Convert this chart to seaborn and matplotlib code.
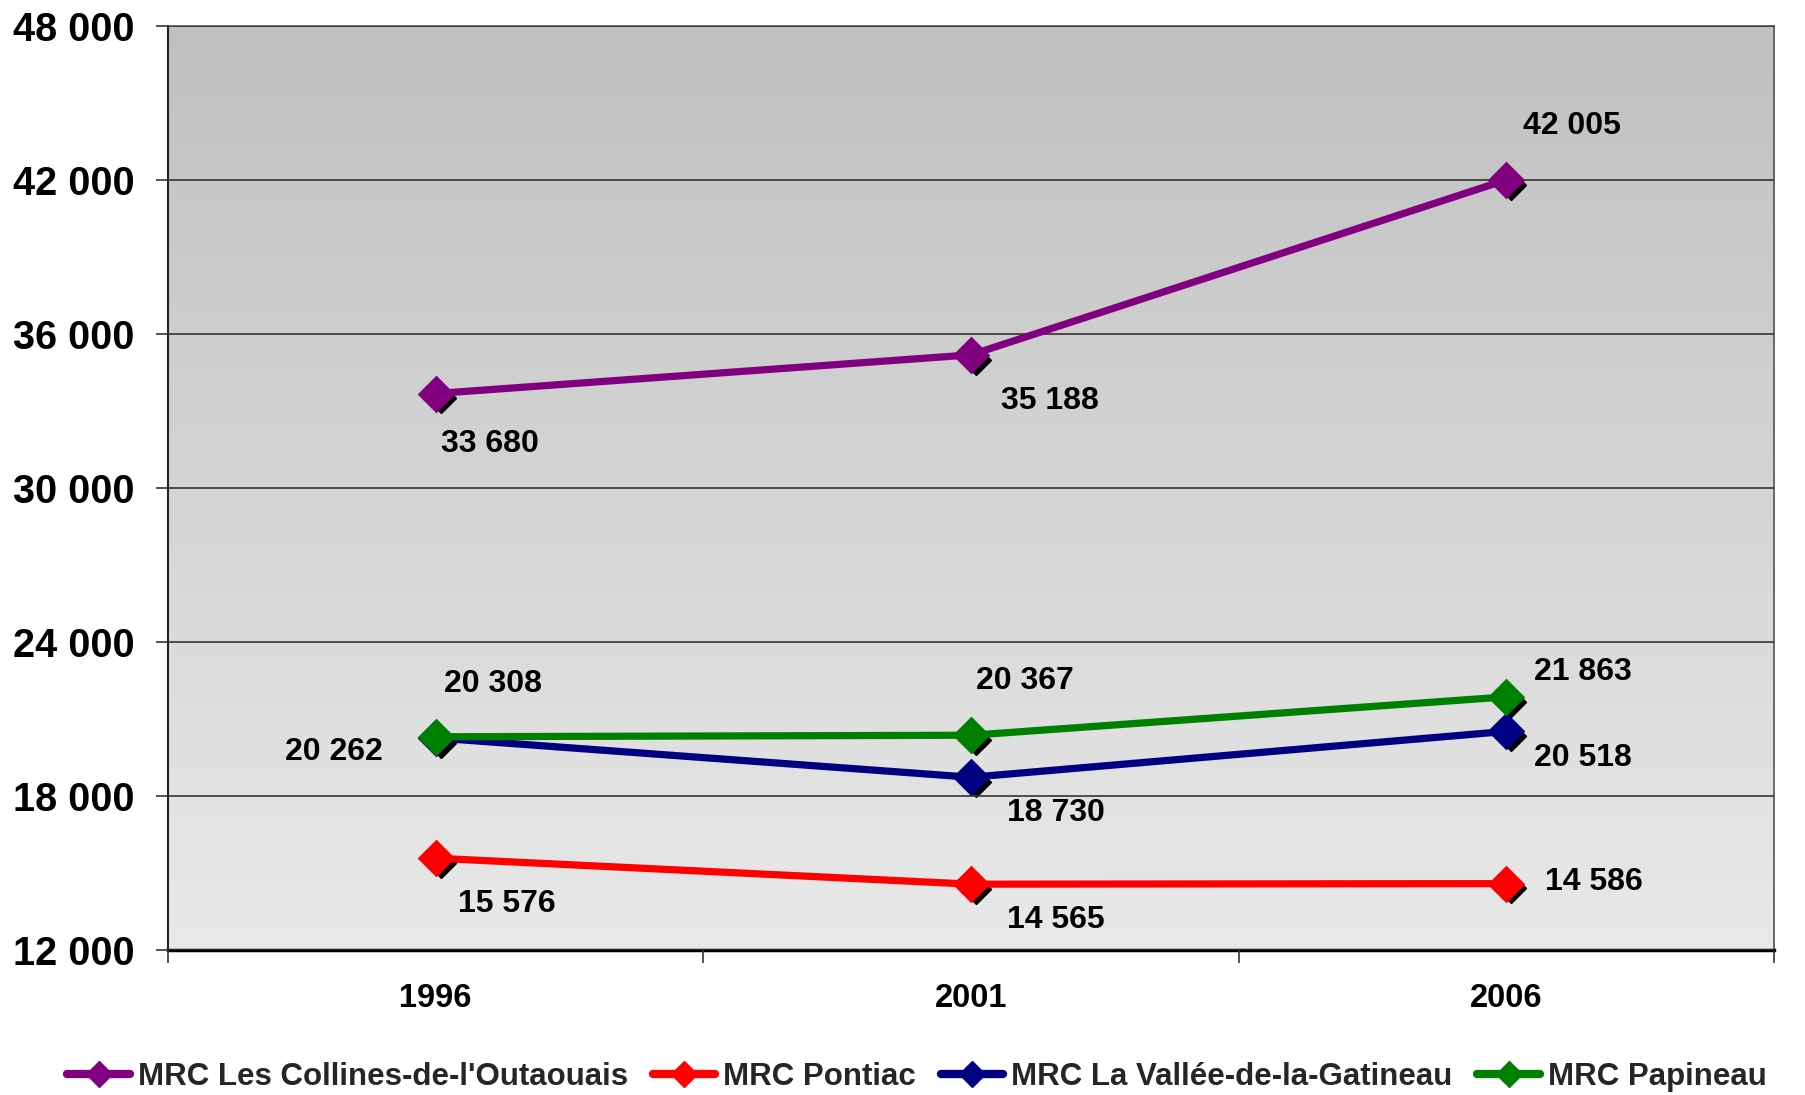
import numpy as np
import pandas as pd
import matplotlib
matplotlib.use("Agg")
import matplotlib.pyplot as plt
import matplotlib.transforms as mtransforms
from matplotlib.ticker import FuncFormatter, FixedLocator
import seaborn as sns

years = ["1996", "2001", "2006"]
series_names = ["MRC Les Collines-de-l'Outaouais", "MRC Pontiac",
                "MRC La Vallée-de-la-Gatineau", "MRC Papineau"]
collines = [33680, 35188, 42005]
pontiac = [15576, 14565, 14586]
vallee = [20262, 18730, 20518]
papineau = [20308, 20367, 21863]
colors = ["#800080", "#FF0000", "#000080", "#008000"]
y_ticks = [12000, 18000, 24000, 30000, 36000, 42000, 48000]

# label offsets (points) per series per year
offsets = {
    series_names[0]: [(39, -36), (57, -33), (47, 39)],
    series_names[1]: [(51, -33), (61, -26), (63, 1)],
    series_names[2]: [(-73, -10), (61, -26), (55, -19)],
    series_names[3]: [(41, 38), (39, 39), (55, 18)],
}

values = [collines, pontiac, vallee, papineau]
df = pd.DataFrame({
    "year": years * 4,
    "value": sum(values, []),
    "series": sum([[n] * 3 for n in series_names], []),
})

sns.set_theme(style="white")
plt.rcParams["font.family"] = ["Liberation Sans", "DejaVu Sans"]
plt.rcParams["font.weight"] = "bold"

fig = plt.figure(figsize=(18.05, 10.95), dpi=100)
ax = fig.add_axes([168 / 1805, 1 - 950 / 1095, (1774 - 168) / 1805, (950 - 26) / 1095])

# gradient background
grad = np.linspace(0, 1, 256).reshape(-1, 1)
cmap = matplotlib.colors.LinearSegmentedColormap.from_list("bg", ["#c0c0c0", "#e9e9e9"])
ax.imshow(grad, aspect="auto", cmap=cmap, extent=[0, 1, 0, 1],
          transform=ax.transAxes, zorder=0, origin="upper")

# shadows
shadow_tr = mtransforms.offset_copy(ax.transData, fig=fig, x=3.5, y=-3.5, units="points")
for vals in values:
    ax.plot(years, vals, linestyle="none", marker="D", markersize=15,
            color="black", transform=shadow_tr, zorder=2)

sns.pointplot(data=df, x="year", y="value", hue="series", hue_order=series_names,
              palette=colors, markers="D", markersize=15, linewidth=5.2,
              errorbar=None, ax=ax, legend=False, zorder=3)
for ln in ax.lines[4:]:
    ln.set_zorder(3)

ax.set_xlim(-0.5, 2.5)
ax.set_ylim(12000, 48000)
ax.set_yticks(y_ticks)
ax.yaxis.set_major_formatter(FuncFormatter(lambda v, p: f"{int(v):,}".replace(",", " ")))
ax.yaxis.grid(True, color="#333333", linewidth=1.2, zorder=1)
ax.set_axisbelow(False)
for gl in ax.get_ygridlines():
    gl.set_zorder(1)
ax.xaxis.grid(False)
ax.set_xlabel("")
ax.set_ylabel("")

ax.tick_params(axis="y", which="major", left=True, length=9, width=1.2, color="#333333",
               pad=15, labelsize=28.5)
ax.tick_params(axis="x", which="major", bottom=False, length=0, pad=24, labelsize=23.5)
ax.xaxis.set_minor_locator(FixedLocator([-0.5, 0.5, 1.5, 2.5]))
ax.tick_params(axis="x", which="minor", bottom=True, length=9, width=1.2, color="#333333")
for lab in ax.get_xticklabels() + ax.get_yticklabels():
    lab.set_fontweight("bold")
    lab.set_color("black")

ax.spines["left"].set_color("#222222")
ax.spines["left"].set_linewidth(1.5)
ax.spines["bottom"].set_color("black")
ax.spines["bottom"].set_linewidth(2.5)
for s in ["top", "right"]:
    ax.spines[s].set_color("#555555")
    ax.spines[s].set_linewidth(1.2)

for name, vals in zip(series_names, values):
    for i, (yr, v) in enumerate(zip(years, vals)):
        dx, dy = offsets[name][i]
        ax.annotate(f"{v:,}".replace(",", " "), xy=(i, v), xytext=(dx, dy),
                    textcoords="offset points", ha="center", va="center",
                    fontsize=23, fontweight="bold", color="black", zorder=5)

handles = [matplotlib.lines.Line2D([], [], color=c, marker="D", markersize=13,
                                   linewidth=6) for c in colors]
fig.legend(handles, series_names, loc="center", bbox_to_anchor=(0.508, 1 - 1077 / 1095),
           ncol=4, frameon=False, prop={"size": 22.5, "weight": "bold"},
           handlelength=2.0, handletextpad=0.25, columnspacing=0.8, borderaxespad=0)

fig.savefig("out.png", dpi=100)
